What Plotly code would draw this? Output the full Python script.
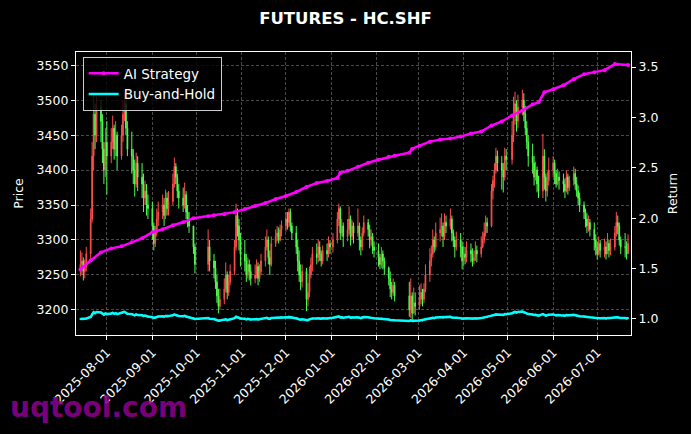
import pandas as pd
import plotly.graph_objects as go

# ---------------- data ----------------
first_open = 3260
closes = [
    3265, 3270, 3255, 3262, 3280,
    3330, 3420, 3480, 3450, 3490,
    3470, 3430, 3400, 3440, 3420,
    3440, 3460, 3430, 3450, 3420,
    3450, 3480, 3495, 3460, 3430,
    3420, 3400, 3380, 3410, 3390,
    3380, 3360, 3370, 3350, 3345,
    3320, 3295, 3310, 3330, 3340,
    3350, 3335, 3360, 3345, 3355,
    3380, 3405, 3390, 3370, 3360,
    3350, 3365, 3340, 3330, 3320,
    3290, 3265,
    3290, 3270,
    3260, 3240, 3220, 3205, 3215,
    3230, 3250, 3225, 3240, 3255,
    3290, 3335, 3320, 3300, 3280,
    3270, 3250, 3265, 3255, 3245,
    3250, 3262, 3245, 3255, 3270,
    3290, 3300, 3275, 3265, 3295,
    3305, 3310, 3300, 3315, 3320,
    3330, 3325, 3340, 3320, 3310,
    3290, 3270, 3250, 3240, 3255,
    3215, 3225, 3250, 3265, 3280,
    3275, 3290, 3280, 3270, 3285,
    3280, 3295, 3290, 3300,
    3330, 3345, 3310, 3320, 3305,
    3315, 3330, 3305, 3320, 3310,
    3320, 3300, 3290, 3310, 3325,
    3315, 3300, 3305, 3290, 3285,
    3275, 3265, 3280, 3270, 3260,
    3245, 3230, 3225, 3235, 3220,
    3200, 3220, 3195, 3210, 3205,
    3215, 3225, 3215, 3230, 3250,
    3270, 3280, 3300, 3290, 3310,
    3315, 3320, 3305, 3325, 3320,
    3330, 3310, 3300, 3290, 3300,
    3290, 3270, 3280, 3275, 3285,
    3280, 3270, 3275, 3285, 3280,
    3290, 3300, 3310, 3325, 3320,
    3370, 3385, 3400, 3420, 3410,
    3400, 3390, 3420, 3415,
    3450, 3480, 3495, 3470, 3490,
    3500, 3480, 3460, 3440, 3420,
    3410, 3390, 3400, 3380, 3370,
    3420, 3390, 3370, 3385, 3400,
    3410, 3395, 3380, 3390, 3385,
    3380, 3370, 3390, 3375, 3385,
    3395, 3380, 3370, 3360, 3350,
    3340, 3330, 3320, 3325, 3315,
    3300, 3290, 3280, 3295, 3285,
    3290, 3280, 3295, 3285, 3290,
    3310, 3325, 3320, 3300, 3290,
    3290, 3280, 3295,
]
highs = [
    3285, 3282, 3275, 3272, 3290,
    3345, 3440, 3510, 3495, 3505,
    3500, 3480, 3440, 3460, 3470,
    3460, 3478, 3465, 3470, 3455,
    3465, 3500, 3510, 3500, 3470,
    3455, 3430, 3415, 3425, 3420,
    3410, 3395, 3385, 3380, 3365,
    3355, 3325, 3320, 3345, 3355,
    3365, 3360, 3372, 3368, 3370,
    3395, 3418, 3410, 3395, 3380,
    3375, 3382, 3370, 3350, 3340,
    3320, 3295,
    3315, 3300,
    3280, 3270, 3250, 3230, 3230,
    3245, 3268, 3255, 3250, 3265,
    3300, 3352, 3345, 3330, 3310,
    3300, 3280, 3275, 3272, 3265,
    3265, 3272, 3268, 3265, 3280,
    3305, 3315, 3305, 3285, 3305,
    3315, 3320, 3318, 3322, 3328,
    3340, 3340, 3345, 3345, 3325,
    3320, 3300, 3285, 3265, 3265,
    3260, 3238, 3262, 3275, 3290,
    3295, 3300, 3298, 3285, 3292,
    3295, 3305, 3300, 3310,
    3340, 3352, 3348, 3330, 3325,
    3330, 3348, 3335, 3328, 3325,
    3345, 3325, 3305, 3318, 3335,
    3330, 3322, 3315, 3310, 3298,
    3295, 3280, 3290, 3285, 3275,
    3262, 3255, 3240, 3245, 3240,
    3240, 3245, 3225, 3232, 3225,
    3235, 3238, 3230, 3238, 3265,
    3288, 3292, 3315, 3305, 3325,
    3332, 3338, 3325, 3338, 3335,
    3345, 3335, 3315, 3305, 3312,
    3310, 3298, 3292, 3290, 3298,
    3295, 3288, 3285, 3298, 3292,
    3305, 3312, 3325, 3335, 3332,
    3380, 3392, 3410, 3432, 3428,
    3420, 3410, 3432, 3430,
    3470, 3505, 3512, 3500, 3508,
    3515, 3510, 3492, 3470, 3450,
    3438, 3420, 3412, 3405, 3392,
    3452, 3430, 3395, 3398, 3418,
    3420, 3415, 3400, 3402, 3398,
    3395, 3388, 3400, 3395, 3392,
    3405, 3402, 3390, 3378, 3368,
    3355, 3345, 3338, 3335, 3330,
    3325, 3308, 3298, 3305, 3300,
    3302, 3298, 3310, 3300, 3302,
    3320, 3340, 3335, 3325, 3305,
    3310, 3298, 3308,
]
lows = [
    3248, 3250, 3242, 3245, 3255,
    3270, 3325, 3400, 3430, 3440,
    3440, 3410, 3380, 3390, 3365,
    3410, 3430, 3415, 3420, 3400,
    3415, 3440, 3470, 3450, 3420,
    3395, 3380, 3362, 3375, 3370,
    3360, 3340, 3350, 3335, 3330,
    3300, 3285, 3290, 3305, 3320,
    3330, 3320, 3330, 3335, 3335,
    3350, 3375, 3380, 3360, 3345,
    3340, 3345, 3330, 3318, 3310,
    3280, 3252,
    3255, 3255,
    3245, 3230, 3210, 3195, 3200,
    3208, 3225, 3215, 3220, 3235,
    3250, 3285, 3305, 3285, 3262,
    3255, 3240, 3245, 3242, 3235,
    3238, 3245, 3235, 3240, 3250,
    3262, 3285, 3265, 3250, 3262,
    3290, 3298, 3295, 3298, 3305,
    3312, 3315, 3318, 3312, 3300,
    3280, 3255, 3240, 3228, 3232,
    3198, 3205, 3218, 3245, 3255,
    3265, 3268, 3270, 3262, 3265,
    3270, 3275, 3280, 3282,
    3295, 3320, 3300, 3305, 3290,
    3298, 3308, 3292, 3300, 3295,
    3305, 3285, 3278, 3285, 3305,
    3305, 3288, 3292, 3280, 3275,
    3262, 3258, 3260, 3258, 3250,
    3235, 3218, 3215, 3220, 3212,
    3190, 3188, 3185, 3195, 3192,
    3200, 3208, 3205, 3210, 3225,
    3240, 3262, 3275, 3282, 3285,
    3298, 3305, 3290, 3300, 3310,
    3315, 3298, 3290, 3275, 3285,
    3275, 3258, 3262, 3265, 3268,
    3268, 3262, 3265, 3270, 3268,
    3275, 3288, 3295, 3305, 3310,
    3318, 3358, 3375, 3395, 3398,
    3372, 3368, 3385, 3400,
    3408, 3440, 3465, 3455, 3460,
    3478, 3470, 3450, 3430, 3405,
    3395, 3378, 3385, 3368, 3360,
    3360, 3372, 3355, 3362, 3378,
    3390, 3380, 3375, 3378, 3372,
    3368, 3360, 3368, 3365, 3370,
    3378, 3372, 3362, 3350, 3340,
    3330, 3318, 3310, 3312, 3305,
    3285, 3278, 3272, 3278, 3275,
    3275, 3272, 3280, 3275, 3278,
    3285, 3305, 3308, 3292, 3280,
    3275, 3272, 3280,
]
holidays = ["2025-10-01", "2025-10-02", "2025-10-03", "2025-10-06", "2025-10-07",
            "2025-10-08", "2026-01-01", "2026-02-16", "2026-02-17", "2026-02-18",
            "2026-02-19", "2026-02-20", "2026-05-01"]

strategy_dates = [
    "2025-07-14", "2025-07-21", "2025-07-28", "2025-08-04", "2025-08-11", "2025-08-18",
    "2025-08-25", "2025-09-01", "2025-09-08", "2025-09-15", "2025-09-22", "2025-09-29",
    "2025-10-09", "2025-10-13", "2025-10-20", "2025-10-27", "2025-11-03", "2025-11-10",
    "2025-11-17", "2025-11-24", "2025-12-01", "2025-12-08", "2025-12-15", "2025-12-22",
    "2025-12-29", "2026-01-05", "2026-01-07", "2026-01-12", "2026-01-19", "2026-01-26",
    "2026-02-02", "2026-02-09", "2026-02-13", "2026-02-23", "2026-02-25", "2026-03-02",
    "2026-03-09", "2026-03-16", "2026-03-23", "2026-03-30", "2026-04-06", "2026-04-13",
    "2026-04-20", "2026-04-27", "2026-05-04", "2026-05-11", "2026-05-18", "2026-05-22",
    "2026-05-26", "2026-06-01", "2026-06-08", "2026-06-15", "2026-06-22", "2026-06-29",
    "2026-07-06", "2026-07-13", "2026-07-22",
]
strategy_values = [
    1.49, 1.58, 1.66, 1.70, 1.72, 1.76,
    1.80, 1.86, 1.89, 1.93, 1.96, 2.00,
    2.02, 2.03, 2.04, 2.06, 2.09, 2.12,
    2.15, 2.19, 2.22, 2.26, 2.31, 2.35,
    2.37, 2.40, 2.45, 2.47, 2.51, 2.55,
    2.58, 2.61, 2.62, 2.65, 2.69, 2.72,
    2.76, 2.78, 2.79, 2.81, 2.84, 2.86,
    2.92, 2.96, 3.02, 3.07, 3.13, 3.15,
    3.25, 3.28, 3.32, 3.38, 3.43, 3.45,
    3.47, 3.53, 3.52,
]

price_ticks = [3200, 3250, 3300, 3350, 3400, 3450, 3500, 3550]
return_ticks = [1.0, 1.5, 2.0, 2.5, 3.0, 3.5]

# ---------------- build ----------------
days = pd.bdate_range("2025-07-14", "2026-07-31")
days = days[~days.isin(pd.to_datetime(holidays))][: len(closes)]
opens = [first_open] + closes[:-1]
buy_hold = [c / closes[0] for c in closes]

FONT = "DejaVu Sans"
fig = go.Figure()
fig.add_trace(go.Candlestick(
    x=days, open=opens, high=highs, low=lows, close=closes,
    increasing=dict(line=dict(color="#ff4d4d", width=1), fillcolor="#ff4d4d"),
    decreasing=dict(line=dict(color="#4dff4d", width=1), fillcolor="#4dff4d"),
    whiskerwidth=0, showlegend=False, yaxis="y",
))
fig.add_trace(go.Scatter(
    x=pd.to_datetime(strategy_dates), y=strategy_values, name="AI Strategy",
    mode="lines+markers", line=dict(color="#ff00ff", width=2.5),
    marker=dict(size=4, color="#ff00ff"), yaxis="y2",
))
fig.add_trace(go.Scatter(
    x=days, y=buy_hold, name="Buy-and-Hold",
    mode="lines+markers", line=dict(color="#00ffff", width=2.5),
    marker=dict(size=2, color="#00ffff"), yaxis="y2",
))

axis_common = dict(
    showline=True, linecolor="white", linewidth=1.2, mirror=True,
    ticks="outside", tickcolor="white", ticklen=4, tickwidth=1,
    tickfont=dict(color="white", size=12.5, family=FONT),
    showgrid=True, gridcolor="#4a4a4a", griddash="3px,2px", gridwidth=0.6,
    zeroline=False, automargin=False,
)
fig.update_layout(
    width=691, height=434,
    paper_bgcolor="black", plot_bgcolor="black",
    margin=dict(l=76, r=60, t=52, b=99, autoexpand=False),
    title=dict(text="<b>FUTURES - HC.SHF</b>", x=0.5, xanchor="center",
               y=1 - 18 / 434, yanchor="middle",
               font=dict(color="white", size=16.5, family=FONT)),
    font=dict(family=FONT, color="white"),
    xaxis=dict(**axis_common, type="date", range=["2025-07-11", "2026-07-24"],
               tick0="2025-08-01", dtick="M1", tickformat="%Y-%m-%d",
               tickangle=-45, rangeslider=dict(visible=False)),
    yaxis=dict(**axis_common, range=[3164, 3569], tickvals=price_ticks,
               title=dict(text="Price", font=dict(color="white", size=12.5, family=FONT), standoff=10)),
    yaxis2=dict(**{k: v for k, v in axis_common.items() if k not in ("showgrid", "mirror")},
                showgrid=False, overlaying="y", side="right", range=[0.84, 3.65],
                tickvals=return_ticks, tickformat=".1f",
                title=dict(text="Return", font=dict(color="white", size=12.5, family=FONT), standoff=10)),
    legend=dict(x=0.012, y=0.982, xanchor="left", yanchor="top",
                bgcolor="rgba(0,0,0,0.8)", bordercolor="#cccccc", borderwidth=1,
                font=dict(color="white", size=13.5, family=FONT), tracegroupgap=2),
    annotations=[dict(text="<b>uqtool.com</b>", xref="paper", yref="paper",
                      x=-68 / 555, y=-(408 - 335) / 283.3, xanchor="left", yanchor="middle",
                      showarrow=False, font=dict(color="rgba(140,0,140,0.9)", size=28, family=FONT))],
)
fig.write_html("out.html", config={"displayModeBar": False},
               post_script="document.body.style.margin='0';")
